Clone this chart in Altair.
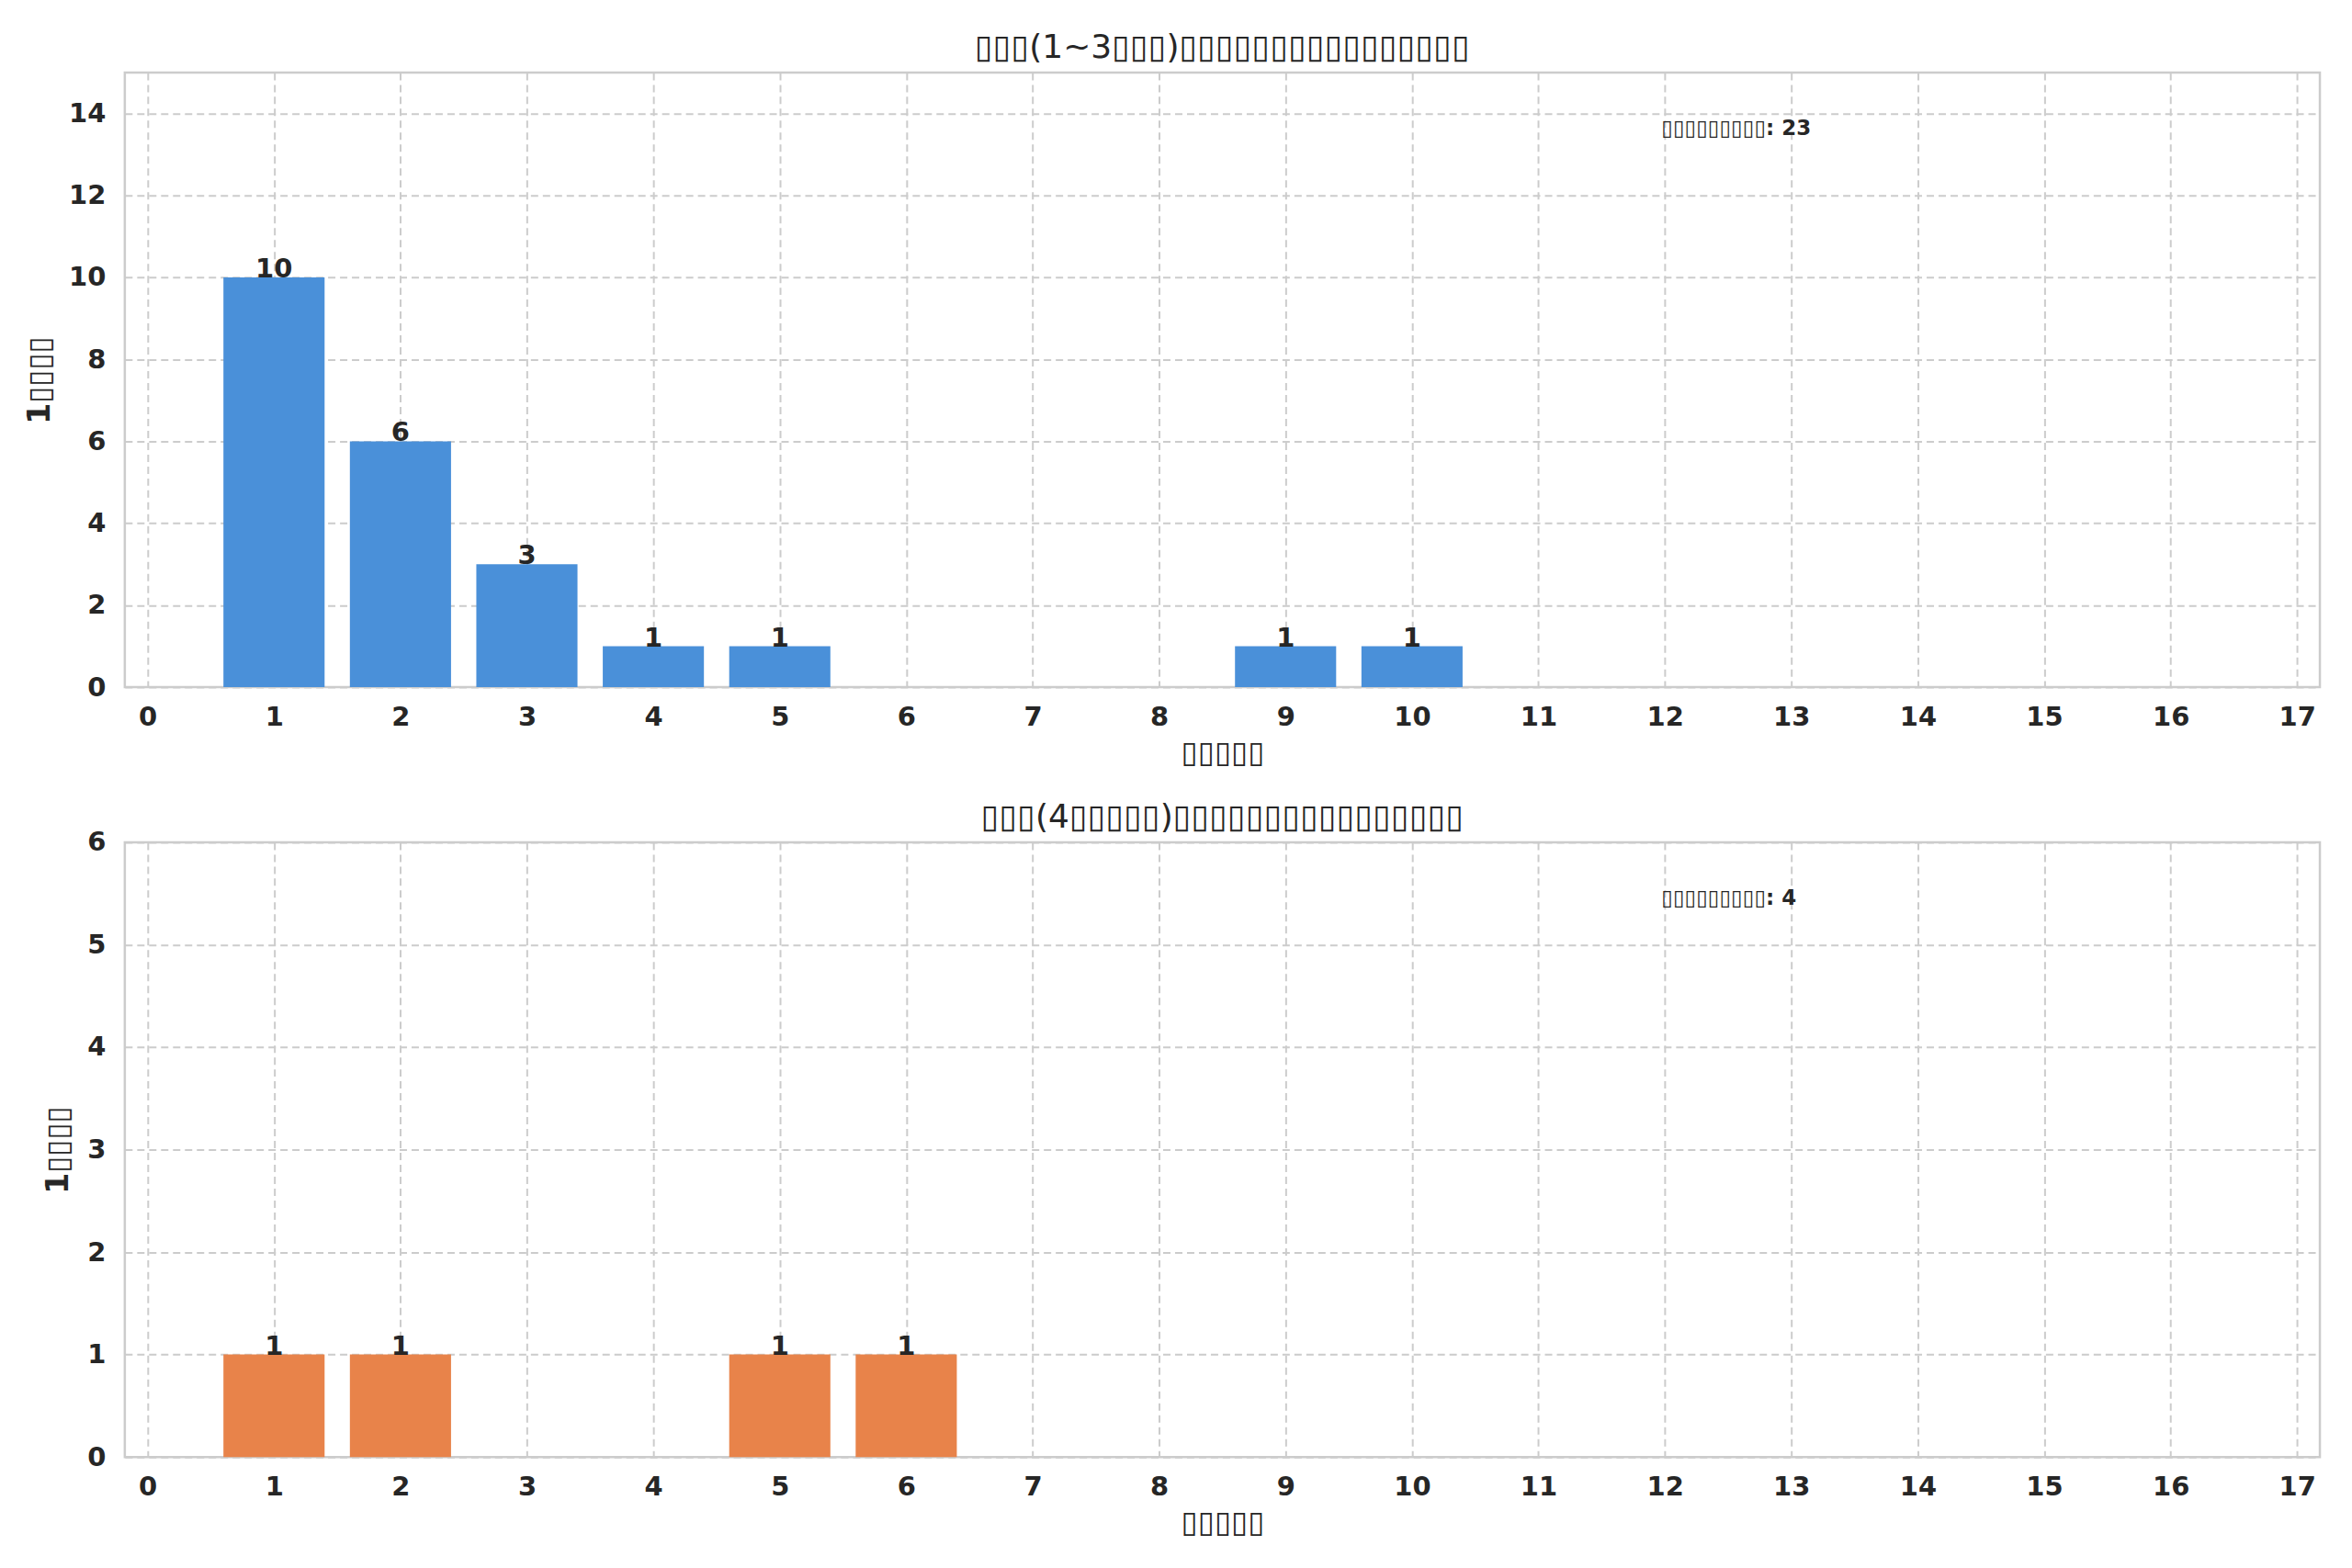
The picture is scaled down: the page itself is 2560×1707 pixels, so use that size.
import altair as alt
import pandas as pd

B = "▯"
title_top = B * 3 + "(1~3" + B * 3 + ")" + B * 16
title_bottom = B * 3 + "(4" + B * 5 + ")" + B * 16
x_title = B * 5
y_title = "1" + B * 4
note_label = B * 9

top_days = [1, 2, 3, 4, 5, 9, 10]
top_counts = [10, 6, 3, 1, 1, 1, 1]
bottom_days = [1, 2, 5, 6]
bottom_counts = [1, 1, 1, 1]

x_ticks = list(range(0, 18))
top_y_ticks = list(range(0, 15, 2))
bottom_y_ticks = list(range(0, 7))

FONT = "DejaVu Sans"
W, H = 2392, 670


def panel(days, counts, color, title, ymax, yticks, title_offset):
    df = pd.DataFrame({"day": days, "count": counts})
    total = sum(counts)
    base = alt.Chart(df).transform_calculate(
        x0="datum.day - 0.4", x1="datum.day + 0.4"
    )
    xs = alt.Scale(domain=[-0.18, 17.18], nice=False, zero=False)
    ys = alt.Scale(domain=[0, ymax], nice=False)
    xaxis = alt.Axis(values=x_ticks, title=x_title, format="d", labelPadding=18,
                     titlePadding=8, grid=True)
    yaxis = alt.Axis(values=yticks, title=y_title, format="d", labelPadding=21,
                     titlePadding=14, grid=True)
    bars = base.mark_bar(color=color).encode(
        x=alt.X("x0:Q", scale=xs, axis=xaxis),
        x2="x1:Q",
        y=alt.Y("count:Q", scale=ys, axis=yaxis),
        y2=alt.datum(0),
    )
    labels = base.mark_text(baseline="alphabetic", dy=0, font=FONT, fontSize=29,
                            fontWeight="bold", color="#262626").encode(
        x=alt.X("day:Q", scale=xs),
        y=alt.Y("count:Q", scale=ys),
        text=alt.Text("count:Q", format="d"),
    )
    note_df = pd.DataFrame({"t": [f"{note_label}: {total}"]})
    note = alt.Chart(note_df).mark_text(
        align="left", baseline="alphabetic", font=FONT, fontSize=23,
        fontWeight="bold", color="#262626"
    ).encode(x=alt.value(W * 0.7), y=alt.value(68), text="t:N")
    return alt.layer(bars, labels, note).properties(
        width=W, height=H,
        title=alt.TitleParams(title, fontSize=36, font=FONT, fontWeight="normal",
                              color="#262626", offset=title_offset, anchor="middle",
                              frame="group"),
    )


top = panel(top_days, top_counts, "#4A90D9", title_top, 15, top_y_ticks, 8)
bottom = panel(bottom_days, bottom_counts, "#E8834A", title_bottom, 6, bottom_y_ticks, -6)

chart = alt.vconcat(top, bottom, spacing=32).properties(
    padding={"left": 18, "top": 23, "right": 25, "bottom": 8},
    background="white",
).configure_view(
    stroke="#cccccc", strokeWidth=2.5
).configure_axis(
    domain=False, ticks=False, tickSize=0,
    gridColor="#cccccc", gridDash=[8, 5], gridWidth=2,
    labelFont=FONT, labelFontSize=29, labelFontWeight="bold", labelColor="#262626",
    titleFont=FONT, titleFontSize=33, titleFontWeight="bold", titleColor="#262626",
)

chart.save("out.html", embed_options={"renderer": "svg", "actions": False})
